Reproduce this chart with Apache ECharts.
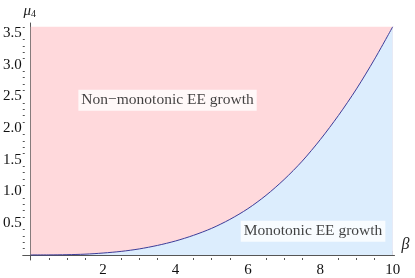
<!DOCTYPE html>
<html><head><meta charset="utf-8">
<script src="https://cdn.jsdelivr.net/npm/echarts@6/dist/echarts.min.js"></script>
<style>html,body{margin:0;padding:0;background:#fff}#c{width:415px;height:278px}</style>
</head><body><div id="c"></div>
<script>
// Boundary curve
const beta = [0,0.5,1,1.5,2,2.5,3,3.5,4,4.5,5,5.5,6,6.5,7,7.5,8,8.5,9,9.5,10];
const mu   = [0,0.0005,0.004,0.012,0.03,0.056,0.095,0.15,0.22,0.31,0.42,0.56,0.73,0.94,1.19,1.48,1.82,2.20,2.62,3.09,3.60];
// Plot range
const betaRange = [0, 10];
const muTop = 3.6;
// Tick values
const xMajor = [2,4,6,8,10];
const xMinor = [0.5,1,1.5,2.5,3,3.5,4.5,5,5.5,6.5,7,7.5,8.5,9,9.5];
const yMajor = [0.5,1,1.5,2,2.5,3,3.5];
const yMinor = [0.1,0.2,0.3,0.4,0.6,0.7,0.8,0.9,1.1,1.2,1.3,1.4,1.6,1.7,1.8,1.9,2.1,2.2,2.3,2.4,2.6,2.7,2.8,2.9,3.1,3.2,3.3,3.4,3.6];
// Region labels
const noteText = ['Non\u2212monotonic EE growth', 'Monotonic EE growth'];
const noteBeta = [3.78, 7.8];
const noteMu   = [2.44, 0.375];

const serif = "'Liberation Serif', 'Times New Roman', Times, serif";
const axisCol = '#555';
const xMin = -0.22, xMax = 10.05, yMin = -0.08, yMax = 3.66;
const tickText = {t: {fontFamily: serif, fontSize: 15, color: '#111'}};

const chart = echarts.init(document.getElementById('c'), null, {renderer: 'canvas'});
chart.setOption({
  animation: false,
  textStyle: {fontFamily: serif},
  grid: {left: 14, right: 20.5, top: 23, bottom: 16.4, containLabel: false},
  xAxis: [{
    type: 'value', min: xMin, max: xMax,
    name: '\u03b2', nameLocation: 'end', nameGap: 7,
    nameTextStyle: {fontFamily: serif, fontStyle: 'italic', fontSize: 16, color: '#222', verticalAlign: 'bottom', padding: [0,0,2,0]},
    axisLine: {show: true, onZero: true, lineStyle: {color: axisCol, width: 1}},
    axisTick: {show: true, inside: true, length: 4, lineStyle: {color: axisCol}, customValues: xMajor},
    axisLabel: {show: true, margin: 3, customValues: xMajor,
      formatter: v => '{t|' + Number(v).toString() + '}', rich: tickText},
    splitLine: {show: false}
  }, {
    type: 'value', min: xMin, max: xMax, position: 'bottom',
    axisLine: {show: false, onZero: false},
    axisTick: {show: true, inside: true, length: 2, lineStyle: {color: axisCol}, customValues: xMinor},
    axisLabel: {show: false},
    splitLine: {show: false}
  }],
  yAxis: [{
    type: 'value', min: yMin, max: yMax,
    name: '{m|\u03bc}{s|4}', nameLocation: 'end', nameGap: 4,
    nameTextStyle: {
      fontFamily: serif, align: 'center', padding: [0,2,0,0],
      rich: {
        m: {fontFamily: serif, fontStyle: 'italic', fontSize: 15, color: '#222'},
        s: {fontFamily: serif, fontSize: 10, color: '#222', padding: [6,0,0,0]}
      }
    },
    axisLine: {show: true, onZero: true, lineStyle: {color: axisCol, width: 1}},
    axisTick: {show: true, inside: true, length: 4, lineStyle: {color: axisCol}, customValues: yMajor},
    axisLabel: {show: true, margin: 1, customValues: yMajor,
      formatter: v => '{t|' + Number(v).toFixed(1) + '}', rich: tickText},
    splitLine: {show: false}
  }, {
    type: 'value', min: yMin, max: yMax, position: 'left',
    axisLine: {show: false, onZero: false},
    axisTick: {show: true, inside: true, length: 2, lineStyle: {color: axisCol}, customValues: yMinor},
    axisLabel: {show: false},
    splitLine: {show: false}
  }],
  series: [
    {
      type: 'line', xAxisIndex: 0, yAxisIndex: 0,
      data: betaRange.map(b => [b, muTop]),
      showSymbol: false, lineStyle: {width: 0},
      areaStyle: {color: '#ffd9dc', opacity: 1, origin: 0},
      silent: true, z: 1
    },
    {
      type: 'line', xAxisIndex: 0, yAxisIndex: 0,
      data: beta.map((b, i) => [b, mu[i]]),
      showSymbol: false, smooth: 0.3,
      lineStyle: {color: '#3d3d99', width: 1},
      areaStyle: {color: '#dcedfd', opacity: 1, origin: 0},
      silent: true, z: 2
    },
    {
      type: 'scatter', xAxisIndex: 0, yAxisIndex: 0,
      data: noteText.map((t, i) => ({value: [noteBeta[i], noteMu[i]], name: t})),
      symbolSize: 0, z: 5,
      label: {
        show: true, position: 'inside', formatter: p => p.name,
        fontFamily: serif, fontSize: 15.5, color: '#111',
        backgroundColor: '#fff', padding: [3,3,2,3]
      },
      silent: true
    }
  ]
});
</script></body></html>
